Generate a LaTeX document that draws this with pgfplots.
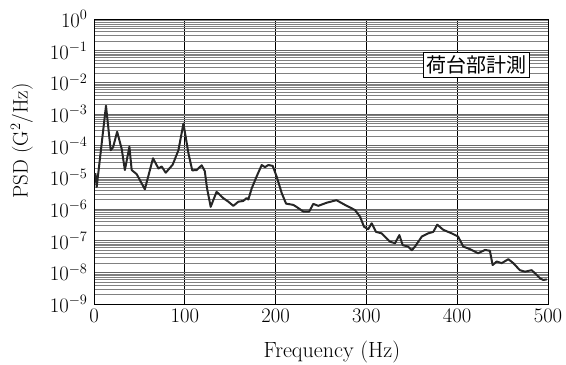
\documentclass[border=0pt]{standalone}
\usepackage{pgfplots}
\pgfplotsset{compat=1.18}
\usepackage{fontspec}
\newfontfamily\cjk{Noto Sans CJK JP}

% PSD spectrum measured on the cargo bed
\pgfplotstableread{
f      psd
1.5    1.35e-5
3      5.0e-6
13.2   1.82e-3
18.4   7.2e-5
21     8.9e-5
25.5   2.75e-4
30.5   7.9e-5
34     1.7e-5
39     9.3e-5
41.5   1.7e-5
47     1.26e-5
56     4.2e-6
65     4.0e-5
71     1.9e-5
74.5   2.2e-5
79     1.4e-5
86.6   2.5e-5
93     7.2e-5
98.5   5.0e-4
104    5.75e-5
108.2  1.66e-5
113    1.7e-5
118.6  2.4e-5
122    1.58e-5
124.5  4.5e-6
128.5  1.17e-6
135    3.5e-6
142.4  2.2e-6
148    1.7e-6
153.4  1.26e-6
159    1.7e-6
164.4  1.8e-6
168    2.2e-6
170    2.0e-6
173.7  4.5e-6
179    1.05e-5
184.7  2.45e-5
188.3  2.1e-5
192    2.45e-5
196.8  2.3e-5
201.2  1.05e-5
206.7  3.2e-6
211.5  1.48e-6
219.5  1.35e-6
223    1.17e-6
230.5  8.3e-7
237    8.3e-7
241.5  1.45e-6
247    1.26e-6
256.3  1.58e-6
267    1.9e-6
276.4  1.35e-6
287.4  9.3e-7
293    5.75e-7
297.4  2.75e-7
302    2.3e-7
305.8  3.55e-7
310.6  1.9e-7
316.8  1.7e-7
326    9.3e-8
331.5  8.3e-8
336.3  1.5e-7
340    7.2e-8
346    6.5e-8
350    5.0e-8
353.5  6.5e-8
361    1.35e-7
368    1.7e-7
373.7  1.9e-7
378    3.2e-7
384.7  2.2e-7
394    1.7e-7
401    1.35e-7
406.7  6.5e-8
414    5.4e-8
423    4.0e-8
430.6  5.1e-8
436    4.8e-8
439    1.7e-8
443.5  2.2e-8
449    1.95e-8
456.3  2.6e-8
461.8  1.95e-8
469    1.17e-8
474.7  1.05e-8
482    1.17e-8
485.7  9.3e-9
491.2  6.5e-9
494.8  5.75e-9
498.6  6.0e-9
}\psddata

\begin{document}
\begin{tikzpicture}
\begin{axis}[
  scale only axis,
  width=454bp, height=285bp,
  ymode=log,
  xmin=0, xmax=500, ymin=1e-9, ymax=1,
  xtick={0,100,...,500},
  ytick={1e-9,1e-8,1e-7,1e-6,1e-5,1e-4,1e-3,1e-2,1e-1,1},
  major tick length=0pt, minor tick length=0pt,
  xmajorgrids, ymajorgrids, yminorgrids,
  major x grid style={black, line width=0.7pt},
  major y grid style={black!60, line width=0.5pt},
  minor y grid style={black!50, line width=0.45pt},
  axis line style={black, line width=0.9pt},
  tick label style={font=\fontsize{22bp}{24bp}\selectfont},
  xticklabel style={yshift=-2bp},
  yticklabel style={xshift=-3bp},
  xlabel={Frequency (Hz)},
  ylabel={PSD (G$^2$/Hz)},
  xlabel style={font=\fontsize{22bp}{24bp}\selectfont,
                at={(rel axis cs:0.524,-0.168)}, anchor=center},
  ylabel style={font=\fontsize{21bp}{24bp}\selectfont,
                at={(rel axis cs:-0.159,0.572)}, anchor=center},
  clip=true,
]
\addplot[black!85, line width=2pt, line join=round] table[x=f, y=psd] {\psddata};
\node[draw=black, line width=0.7pt, fill=white, inner sep=3bp,
      font=\cjk\fontsize{20bp}{22bp}\selectfont]
  at (axis cs:421,0.035) {荷台部計測};
\coordinate (bl) at (rel axis cs:0,0);
\coordinate (tr) at (rel axis cs:1,1);
\end{axis}
\pgfresetboundingbox
\path[use as bounding box] ([shift={(-94bp,-60bp)}]bl) rectangle ([shift={(18bp,19bp)}]tr);
\end{tikzpicture}
\end{document}
